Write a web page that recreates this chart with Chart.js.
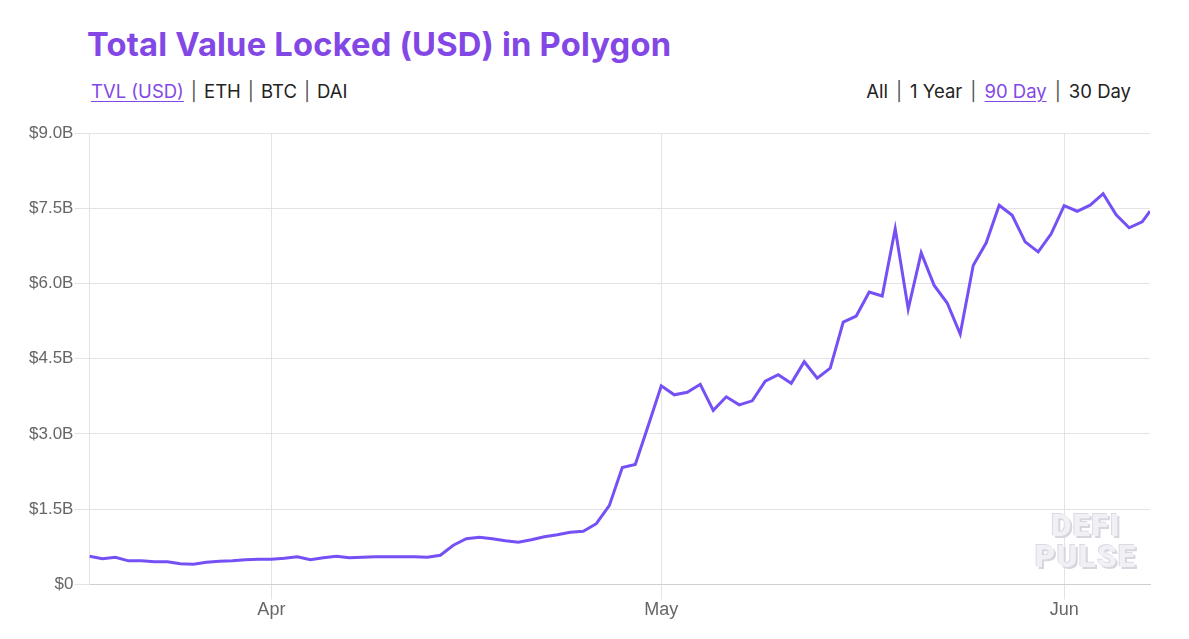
<!DOCTYPE html>
<html>
<head>
<meta charset="utf-8">
<script src="https://cdn.jsdelivr.net/npm/chart.js@4.4.1/dist/chart.umd.min.js"></script>
<style>
  html,body{margin:0;padding:0;background:#fff;}
  body{width:1189px;height:639px;position:relative;overflow:hidden;font-family:Inter,"Noto Sans",sans-serif;}
  #title{position:absolute;left:87px;top:24px;font-weight:700;font-size:32.7px;color:#8247e5;white-space:nowrap;letter-spacing:0.2px;}
  .links{position:absolute;top:80px;font-size:18.5px;color:#222;white-space:nowrap;}
  #links-l{left:91px;}
  #links-r{right:58px;}
  .links a{color:#222;text-decoration:none;}
  .links a.on{color:#8247e5;text-decoration:underline;text-underline-offset:3px;}
  .sep{margin:0 7px;color:#555;}
  #links-r .sep{margin:0 8px;}
  #wrap{position:absolute;left:0;top:113px;width:1189px;height:526px;}
  #mark{position:absolute;left:1027px;top:510px;width:118px;text-align:center;font-family:Roboto,sans-serif;font-weight:900;font-size:31px;line-height:31px;letter-spacing:1.5px;color:#f1f0f4;text-shadow:2px 2px 0 #d8d5df,-1px -1px 0 #dcd9e3;pointer-events:none;}
</style>
</head>
<body>
<div id="title">Total Value Locked (USD) in Polygon</div>
<div class="links" id="links-l"><a class="on">TVL (USD)</a><span class="sep">|</span><a>ETH</a><span class="sep">|</span><a>BTC</a><span class="sep">|</span><a>DAI</a></div>
<div class="links" id="links-r"><a>All</a><span class="sep">|</span><a>1 Year</a><span class="sep">|</span><a class="on">90 Day</a><span class="sep">|</span><a>30 Day</a></div>
<div id="wrap"><canvas id="tvl-chart"></canvas></div>
<div id="mark">DEFI<br>PULSE</div>
<script>
'use strict';

// daily snapshots, last one is an intraday reading
var dates=[
  '2021-03-18','2021-03-19','2021-03-20','2021-03-21','2021-03-22','2021-03-23','2021-03-24','2021-03-25',
  '2021-03-26','2021-03-27','2021-03-28','2021-03-29','2021-03-30','2021-03-31',
  '2021-04-01','2021-04-02','2021-04-03','2021-04-04','2021-04-05','2021-04-06','2021-04-07','2021-04-08',
  '2021-04-09','2021-04-10','2021-04-11','2021-04-12','2021-04-13','2021-04-14','2021-04-15','2021-04-16',
  '2021-04-17','2021-04-18','2021-04-19','2021-04-20','2021-04-21','2021-04-22','2021-04-23','2021-04-24',
  '2021-04-25','2021-04-26','2021-04-27','2021-04-28','2021-04-29','2021-04-30',
  '2021-05-01','2021-05-02','2021-05-03','2021-05-04','2021-05-05','2021-05-06','2021-05-07','2021-05-08',
  '2021-05-09','2021-05-10','2021-05-11','2021-05-12','2021-05-13','2021-05-14','2021-05-15','2021-05-16',
  '2021-05-17','2021-05-18','2021-05-19','2021-05-20','2021-05-21','2021-05-22','2021-05-23','2021-05-24',
  '2021-05-25','2021-05-26','2021-05-27','2021-05-28','2021-05-29','2021-05-30','2021-05-31',
  '2021-06-01','2021-06-02','2021-06-03','2021-06-04','2021-06-05','2021-06-06','2021-06-07','2021-06-07T14:30'
];
// TVL in billions USD
var tvl=[
  0.56,0.51,0.54,0.47,0.47,0.45,0.45,0.41,0.40,0.44,0.46,0.47,0.49,0.50,
  0.50,0.52,0.55,0.49,0.53,0.56,0.53,0.54,0.55,0.55,0.55,0.55,0.54,0.58,0.78,0.91,
  0.94,0.91,0.87,0.84,0.89,0.95,0.99,1.04,1.06,1.21,1.57,2.33,2.39,3.17,
  3.96,3.78,3.83,3.99,3.47,3.74,3.58,3.66,4.05,4.18,4.01,4.44,4.11,4.31,5.23,5.35,
  5.83,5.75,7.09,5.49,6.61,5.96,5.61,4.99,6.36,6.81,7.56,7.36,6.83,6.63,6.99,
  7.55,7.44,7.56,7.79,7.37,7.11,7.23,7.44
];
var monthTicks=['2021-04-01','2021-05-01','2021-06-01'];
var monthLabels=['Apr','May','Jun'];
var yTicks=[0,1.5,3.0,4.5,6.0,7.5,9.0];

var DAY=86400000;
var ORIGIN=Date.UTC(2021,3,1);
function dayNum(s){
  var p=s.split('T');var d=p[0].split('-');
  var t=Date.UTC(+d[0],+d[1]-1,+d[2]);
  if(p[1]){var h=p[1].split(':');t+=(+h[0])*3600000+(+h[1])*60000;}
  return (t-ORIGIN)/DAY;
}

var pts=[];
for(var i=0;i<dates.length;i++)pts.push({x:dayNum(dates[i]),y:tvl[i]*1e9});
var mDays=monthTicks.map(dayNum);

var ctx=document.getElementById('tvl-chart');
new Chart(ctx,{
  type:'line',
  data:{datasets:[{data:pts,borderColor:'#7450f5',borderWidth:3,pointRadius:0,tension:0,fill:false}]},
  options:{
    responsive:true,maintainAspectRatio:false,animation:false,
    layout:{padding:{left:28,right:39,top:20,bottom:18}},
    plugins:{legend:{display:false},tooltip:{enabled:false}},
    scales:{
      x:{type:'linear',min:pts[0].x,max:pts[pts.length-1].x,
        afterBuildTicks:function(ax){ax.ticks=mDays.map(function(v){return{value:v};});},
        grid:{color:'#e3e3e3',tickLength:15},
        border:{color:'#cfcfcf'},
        ticks:{color:'#666',padding:0,font:{size:18},maxRotation:0,
          callback:function(v){var k=mDays.indexOf(v);return k>=0?monthLabels[k]:'';}}},
      y:{min:0,max:9e9,
        afterBuildTicks:function(ax){ax.ticks=yTicks.map(function(v){return{value:v*1e9};});},
        grid:{color:'#e3e3e3',tickLength:15},
        border:{color:'#e3e3e3'},
        ticks:{color:'#666',padding:1,font:{size:17},
          callback:function(v){return v===0?'$0':'$'+(v/1e9).toFixed(1)+'B';}}}
    }
  }
});
</script>
</body>
</html>
